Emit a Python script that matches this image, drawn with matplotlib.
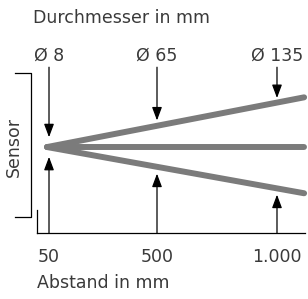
import matplotlib
matplotlib.use("Agg")
import matplotlib.pyplot as plt

# ---- data ----
distances = [50, 500, 1000]            # mm (arrow positions)
distance_labels = ["50", "500", "1.000"]
diameters = [8, 65, 135]               # mm
diameter_labels = ["Ø 8", "Ø 65", "Ø 135"]

beam_x = [42, 1113]                    # beam start / end (mm)
beam_upper = [0, 71]                   # schematic half-width (drawing units)
beam_lower = [0, -66]
beam_center = [0, 0]

top_tips = [14, 38, 70]                # arrow tip heights (drawing units)
bottom_tips = [-14, -38, -68]

TEXT = "#3a3a3a"
GRAY = "#7b7b7b"

fig = plt.figure(figsize=(3.08, 2.99), dpi=100)
ax = fig.add_axes([0, 0, 1, 1])
ax.set_xlim(-154.2, 1129.2)
ax.set_ylim(-217, 210)
ax.axis("off")

# beams
for ys in (beam_upper, beam_center, beam_lower):
    ax.plot(beam_x, ys, color=GRAY, lw=4.3, solid_capstyle="round", zorder=2)

# arrows
arrow_kw = dict(arrowstyle="-|>,head_length=0.8,head_width=0.3", color="black",
                lw=0.9, shrinkA=0, shrinkB=0)
top_start = 114
base_y = -123
for d, t in zip(distances, top_tips):
    ax.annotate("", xy=(d, t), xytext=(d, top_start), arrowprops=arrow_kw, zorder=3)
for d, b in zip(distances, bottom_tips):
    ax.annotate("", xy=(d, b), xytext=(d, base_y), arrowprops=arrow_kw, zorder=3)

# baseline and small tick
ax.plot([0, 1117], [base_y, base_y], color="black", lw=0.9)
ax.plot([0, 0], [-90, base_y], color="black", lw=0.9)

# sensor bracket
ax.plot([-92, -25, -25, -92], [106, 106, -100, -100], color="black", lw=0.9)

fs = 12.5
ax.text(-17, 184, "Durchmesser in mm", fontsize=fs, color=TEXT, ha="left", va="center")
for d, lab in zip(distances, diameter_labels):
    ax.text(d, 131, lab, fontsize=fs, color=TEXT, ha="center", va="center")
for d, lab in zip(distances, distance_labels):
    ax.text(d, -157, lab, fontsize=fs, color=TEXT, ha="center", va="center")
ax.text(0, -194, "Abstand in mm", fontsize=fs, color=TEXT, ha="left", va="center")
ax.text(-96, 0, "Sensor", fontsize=fs, color=TEXT, ha="center", va="center", rotation=90)

fig.savefig("out.png", dpi=100)
